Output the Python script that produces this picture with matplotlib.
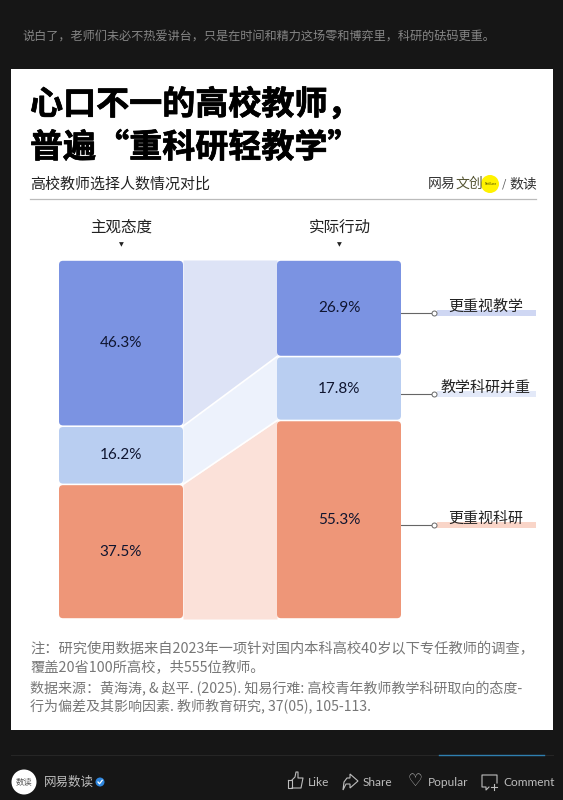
import matplotlib
matplotlib.use('Agg')
from matplotlib import pyplot as plt
from matplotlib import patheffects
from matplotlib.patches import FancyBboxPatch, Rectangle, Circle, Polygon

plt.rcParams['font.family'] = ['Noto Sans CJK SC', 'DejaVu Sans']

# data
columns = ['主观态度', '实际行动']
groups = ['更重视教学', '教学科研并重', '更重视科研']
attitude = [46.3, 16.2, 37.5]
action = [26.9, 17.8, 55.3]
bar_colors = ['#7B93E2', '#B9CEF1', '#EE9678']
flow_colors = ['#DDE3F6', '#EDF2FC', '#FBE1D9']
label_bg = ['#CFD7F3', '#E3E9F8', '#F9D5C8']
line_y = [313, 394, 525]

W, H = 563, 800
fig = plt.figure(figsize=(W / 100, H / 100), dpi=100, facecolor='#161616')

# page in pixel coordinates, y going down
page = fig.add_axes([0, 0, 1, 1])
page.set_xlim(0, W)
page.set_ylim(H, 0)
page.axis('off')

page.text(22, 36, '说白了，老师们未必不热爱讲台，只是在时间和精力这场零和博弈里，科研的砝码更重。',
          color='#858585', fontsize=8.75, va='center', ha='left')
page.add_patch(Rectangle((11, 69), 542, 661, fc='white', ec='none'))

heavy = [patheffects.withStroke(linewidth=0.5, foreground='black')]
page.text(30, 105, '心口不一的高校教师，', color='black', fontsize=23.8, weight='bold', va='center', path_effects=heavy)
page.text(30, 148, '普遍“重科研轻教学”', color='black', fontsize=23.8, weight='bold', va='center', path_effects=heavy)
page.text(30, 185, '高校教师选择人数情况对比', color='#222222', fontsize=10.8, va='center')
page.plot([30, 536], [199, 199], color='#BBBBBB', lw=0.9)

page.text(428, 184, '网易', color='#333333', fontsize=10, va='center')
page.text(455, 184, '文创', color='#555533', fontsize=10, va='center')
page.add_patch(Circle((490, 184), 9, fc='#FFF200', ec='none'))
page.text(491, 184, 'NetEase', color='#444400', fontsize=2.3, ha='center', va='center')
page.text(502, 184, '/', color='#555555', fontsize=8, va='center')
page.text(509, 184, '数读', color='#333333', fontsize=10, va='center')

col_x = [121.5, 339.5]
for name, x in zip(columns, col_x):
    page.text(x, 227, name, color='#222222', fontsize=11.2, ha='center', va='center')
    page.text(x, 245, '▼', color='#222222', fontsize=4.5, ha='center', va='center', family='DejaVu Sans')

# chart axes: x = column index, y = cumulative share from the top
left_px, right_px, top_px, bottom_px = 59, 401, 260, 619
bar_w = 124 / 218
ax = fig.add_axes([left_px / W, 1 - bottom_px / H, (right_px - left_px) / W, (bottom_px - top_px) / H])
ax.set_xlim(-bar_w / 2, 1 + bar_w / 2)
ax.set_ylim(100, 0)
ax.axis('off')
ax.patch.set_alpha(0)

px_x = (1 + bar_w) / (right_px - left_px)
px_y = 100 / (bottom_px - top_px)

top_a = 0
top_b = 0
for i in range(3):
    a2 = top_a + attitude[i]
    b2 = top_b + action[i]
    ax.fill_between([bar_w / 2, 1 - bar_w / 2], [top_a, top_b], [a2, b2],
                    color=flow_colors[i], lw=0)
    if i < 2:
        ax.plot([bar_w / 2, 1 - bar_w / 2], [a2, b2], color='white', lw=1.2)
    for col, (y0, val) in enumerate([(top_a, attitude[i]), (top_b, action[i])]):
        g = 0.8 * px_y
        box = FancyBboxPatch((col - bar_w / 2, y0 + g), bar_w, val - 2 * g,
                             boxstyle='round,pad=0,rounding_size=%f' % (4 * px_x),
                             mutation_aspect=px_y / px_x, fc=bar_colors[i], ec='none')
        ax.add_patch(box)
        ax.text(col, y0 + val / 2, '%.1f%%' % val, color='#0F1530', fontsize=11,
                ha='center', va='center', family=['Lato', 'DejaVu Sans'])
    top_a = a2
    top_b = b2

# right hand labels
for name, ln, bg in zip(groups, line_y, label_bg):
    page.add_patch(Rectangle((437, ln - 3), 99, 6, fc=bg, ec='none', zorder=1))
    page.plot([401, 434], [ln, ln], color='#666666', lw=0.8, zorder=2)
    page.plot([434], [ln], 'o', ms=3.6, mfc='white', mec='#666666', mew=0.7, zorder=3)
    page.text(485.5, ln - 6, name, color='#222222', fontsize=10.8, ha='center', va='center', zorder=4)

page.text(30, 649, '注：研究使用数据来自2023年一项针对国内本科高校40岁以下专任教师的调查，',
          color='#777777', fontsize=10.3, va='center')
page.text(30, 667, '覆盖20省100所高校，共555位教师。', color='#777777', fontsize=10.3, va='center')
page.text(30, 689, '数据来源：黄海涛, & 赵平. (2025). 知易行难: 高校青年教师教学科研取向的态度-',
          color='#777777', fontsize=10.1, va='center')
page.text(30, 706, '行为偏差及其影响因素. 教师教育研究, 37(05), 105-113.', color='#777777', fontsize=10.1, va='center')

# bottom bar
page.plot([11, 553], [755, 755], color='#262626', lw=0.8)
page.plot([439, 544], [755, 755], color='#2F7FB0', lw=1)
page.add_patch(Circle((24, 782), 12.5, fc='white', ec='none'))
page.text(24, 782, '数读', color='#555555', fontsize=6, ha='center', va='center')
page.text(44, 782, '网易数读', color='#BDBDBD', fontsize=9, va='center')
page.add_patch(Circle((100, 782), 4.5, fc='#2E86DE', ec='none'))
page.plot([98, 99.5, 102.2], [782, 783.8, 780.3], color='white', lw=0.9)

# like icon
page.plot([288, 288, 292, 292, 288], [780, 788, 788, 780, 780], color='#BDBDBD', lw=0.8)
page.plot([292, 295, 296, 298, 298, 303, 301, 292], [780, 777, 772, 772, 778, 778, 788, 788], color='#BDBDBD', lw=0.8)
page.text(308, 782, 'Like', color='#BDBDBD', fontsize=8.6, va='center', family=['Lato', 'DejaVu Sans'])
# share icon
page.add_patch(Polygon([(350, 774), (358, 781), (350, 788), (350, 784), (346, 784), (343, 790), (344, 782), (347, 778), (350, 778)],
                       closed=True, fc='none', ec='#BDBDBD', lw=0.8))
page.text(363, 782, 'Share', color='#BDBDBD', fontsize=8.6, va='center', family=['Lato', 'DejaVu Sans'])
# popular icon
page.text(415, 781, '♡', color='#BDBDBD', fontsize=12, ha='center', va='center', family='DejaVu Sans')
page.text(428, 782, 'Popular', color='#BDBDBD', fontsize=8.6, va='center', family=['Lato', 'DejaVu Sans'])
# comment icon
page.plot([497, 497, 482, 482, 486, 486, 489], [783, 775, 775, 787, 787, 790, 787], color='#BDBDBD', lw=0.8)
page.plot([491, 497], [787, 787], color='#BDBDBD', lw=0.8)
page.plot([494, 494], [784, 790], color='#BDBDBD', lw=0.8)
page.text(503, 782, 'Comment', color='#BDBDBD', fontsize=8.6, va='center', family=['Lato', 'DejaVu Sans'])

fig.savefig('out.png', dpi=100, facecolor=fig.get_facecolor())
